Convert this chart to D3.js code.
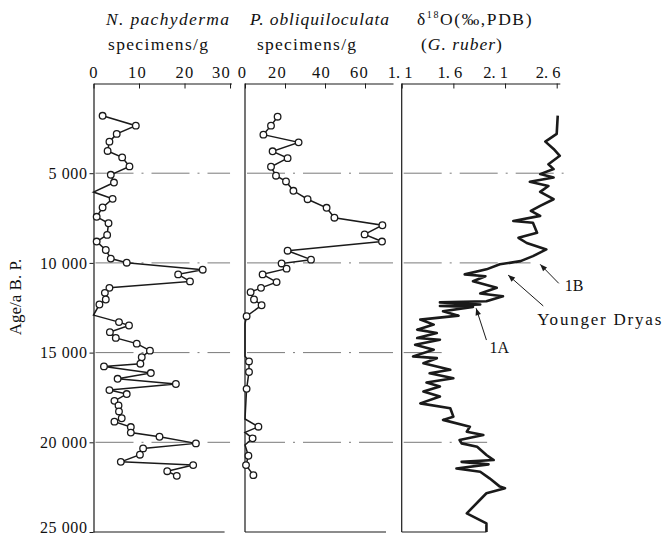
<!DOCTYPE html>
<html><head><meta charset="utf-8">
<script src="https://cdn.jsdelivr.net/npm/d3@7/dist/d3.min.js"></script>
<style>
body{margin:0;background:#fff}
svg{display:block}
text{font-family:"Liberation Serif","Times New Roman",serif;fill:#111}
</style></head>
<body><svg id="chart" width="662" height="539"></svg>
<script>
// ---------- data ----------
const ageTicks = [5000, 10000, 15000, 20000, 25000];
const gridAges = [5000, 10000, 15000, 20000];
const pachyTicks = [0, 10, 20, 30];
const obliqTicks = [0, 20, 40, 60];
const d18oTicks = [1.1, 1.6, 2.1, 2.6];

const pachyAge = [1800,2350,2810,3240,3760,4120,4620,5090,5520,6050,6430,6910,7430,7790,8440,8810,9280,9760,9990,10380,10640,11030,11390,11670,12040,12320,12910,13300,13490,13860,14180,14500,14890,15260,15620,15770,16140,16460,16750,17090,17310,17690,17950,18280,18660,18850,19150,19460,19690,20060,20340,20690,21090,21270,21610,21870];
const pachyVal = [2.0,9.3,5.1,3.5,3.1,6.3,7.9,3.8,4.5,0,4.2,2.0,0.7,3.3,3.0,0.7,2.7,3.8,7.3,24.0,18.6,21.2,3.5,2.5,2.7,1.3,0,5.6,7.8,3.6,4.9,9.5,12.4,10.6,10.3,2.3,12.6,5.3,18.1,3.5,7.3,4.6,5.5,5.6,6.2,4.6,8.2,8.2,14.5,22.5,10.9,10.2,6.0,21.9,16.2,18.3];

const obliqAge = [1850,2350,2850,3280,3780,4160,4640,5140,5460,5980,6450,6930,7480,7900,8410,8810,9320,9820,10030,10320,10640,11070,11390,11630,12040,12360,12970,13400,15200,15490,16080,17020,18700,19130,19450,19780,20150,20750,21270,21830];
const obliqVal = [16.3,13,9.2,26.8,13.8,21.3,13,15.5,20.5,24.2,31.3,40.8,44.7,68.7,59.8,68.5,21.3,33,18.3,20.8,8.8,15.8,8,2.8,4.5,8.3,0.8,0,0,2,2,0.8,0,6.7,0,3.8,0,1.7,0.5,4.2];

const d18oAge = [1790,2810,3240,3650,4030,4500,4770,5050,5240,5480,5710,6040,6450,6820,7100,7380,7660,7760,8320,8600,8890,9250,9620,9900,10080,10360,10640,10740,11020,11390,11710,11860,12140,12200,12320,12400,12450,12700,12940,13160,13440,13720,13910,14190,14280,14560,14840,15210,15310,15590,15960,16150,16430,16670,16890,17170,17450,17830,18100,18570,18750,19130,19410,19590,19870,20060,20250,20710,20990,21090,21230,21460,21640,22010,22470,22560,22840,23960,24520,25000];
const d18oVal = [2.61,2.60,2.49,2.57,2.63,2.52,2.57,2.44,2.57,2.34,2.52,2.44,2.57,2.44,2.35,2.44,2.18,2.37,2.41,2.23,2.31,2.50,2.37,2.25,2.05,1.92,1.71,1.91,1.79,2.02,1.86,2.08,1.92,1.47,1.86,1.47,1.79,1.50,1.65,1.28,1.41,1.25,1.44,1.25,1.47,1.23,1.41,1.21,1.44,1.31,1.57,1.37,1.60,1.34,1.47,1.31,1.47,1.28,1.57,1.60,1.50,1.76,1.73,1.89,1.66,1.68,1.83,1.92,1.99,1.68,1.94,1.63,1.86,1.95,2.05,2.10,1.92,1.73,1.92,1.92];

// annotations: tip/tail in data units (δ18O value, age)
const annoLabels = ["1B", "Younger Dryas", "1A"];
const annoTip = [[2.44, 10080], [2.13, 10680], [1.82, 12530]];
const annoTail = [[2.62, 11140], [2.47, 12400], [1.92, 14300]];

// ---------- drawing ----------
const FONT = '"Liberation Serif","Times New Roman",serif';
const svg = d3.select("#chart");
const y = d3.scaleLinear().domain([0, 25000]).range([83.5, 532]);
const x1 = d3.scaleLinear().domain([0, 30.3]).range([93.5, 231.4]);
const x2 = d3.scaleLinear().domain([0, 74]).range([245, 393]);
const x3 = d3.scaleLinear().domain([1.1, 2.63]).range([401.7, 559.8]);

const ink = "#1a1a1a";

svg.append("defs").append("marker")
  .attr("id", "arr").attr("viewBox", "0 0 10 10").attr("refX", 10).attr("refY", 5)
  .attr("markerWidth", 9).attr("markerHeight", 7).attr("markerUnits", "userSpaceOnUse")
  .attr("orient", "auto")
  .append("path").attr("d", "M0,1 L10,5 L0,9 Z").attr("fill", ink);

const pachy = pachyAge.map((a, i) => ({age: a, v: pachyVal[i]}));
const obliq = obliqAge.map((a, i) => ({age: a, v: obliqVal[i]}));
const d18o = d18oAge.map((a, i) => ({age: a, v: d18oVal[i]}));

// gridlines
const grid = svg.append("g").attr("stroke", "#7a7a7a").attr("stroke-width", 1)
  .attr("stroke-dasharray", "38,8,2,8").attr("fill", "none");
gridAges.forEach(a => {
  grid.append("line").attr("x1", x1(0) + 2).attr("x2", x1(30)).attr("y1", y(a)).attr("y2", y(a));
  grid.append("line").attr("x1", x2(0) + 2).attr("x2", x2(74)).attr("y1", y(a)).attr("y2", y(a));
  const reach = d3.max(d18o.filter(d => Math.abs(d.age - a) <= 350), d => d.v);
  grid.append("line").attr("x1", x3(1.1) + 2).attr("x2", x3(reach) + 10).attr("y1", y(a)).attr("y2", y(a));
});

// left age axis
const yAxis = svg.append("g").attr("transform", `translate(${x1(0)},0)`)
  .call(d3.axisLeft(y).tickValues(ageTicks).tickSize(4).tickSizeOuter(0).tickPadding(2)
    .tickFormat(d => d3.format(",")(d).replace(",", " ")));
yAxis.attr("font-family", FONT).attr("font-size", 16);
yAxis.select(".domain").attr("stroke", ink).attr("stroke-width", 1.2);
yAxis.selectAll("line").attr("stroke", ink);
yAxis.selectAll("text").attr("font-family", FONT).attr("font-size", 16).attr("letter-spacing", 0.6)
  .attr("fill", "#111").attr("dy", d => d === 25000 ? "0.05em" : "0.32em");

svg.append("text").attr("transform", `translate(21,297) rotate(-90)`)
  .attr("text-anchor", "middle").attr("font-size", 17).text("Age/a B. P.");

// top axes
function topAxis(scale, ticks, fmt, shifts, spacing) {
  const g = svg.append("g").attr("transform", `translate(0,${y(0)})`)
    .call(d3.axisTop(scale).tickValues(ticks).tickSizeInner(-5).tickSizeOuter(0).tickPadding(6).tickFormat(fmt));
  g.attr("font-family", FONT).attr("font-size", 16.5);
  g.select(".domain").attr("stroke", ink).attr("stroke-width", 1.2);
  g.selectAll("line").attr("stroke", ink);
  g.selectAll("text").attr("font-family", FONT).attr("font-size", 16.5).attr("letter-spacing", spacing)
    .attr("fill", "#111").attr("dx", (d, i) => shifts[i]);
  return g;
}
topAxis(x1, pachyTicks, d3.format("d"), [0, -2, 0, -9], 1.2);
topAxis(x2, obliqTicks, d3.format("d"), [-3, -8, -4, -6], 1.2);
topAxis(x3, d18oTicks, d => d3.format(".1f")(d).replace(".", ". "), [-2, -4, -10, -9], 0);

// panel frames: left verticals (panels 2,3) and bottom lines
const frame = svg.append("g").attr("stroke", ink).attr("stroke-width", 1.2);
[x2(0), x3(1.1)].forEach(xx => frame.append("line").attr("x1", xx).attr("x2", xx).attr("y1", y(0)).attr("y2", y(25000)));
frame.append("line").attr("x1", x1(0)).attr("x2", x1(28.8)).attr("y1", y(25000)).attr("y2", y(25000));
frame.append("line").attr("x1", x2(0)).attr("x2", x2(70.5)).attr("y1", y(25000)).attr("y2", y(25000));
frame.append("line").attr("x1", x3(1.1)).attr("x2", x3(d18oVal[d18oVal.length - 1])).attr("y1", y(25000)).attr("y2", y(25000));

// series lines
const line = xs => d3.line().x(d => xs(d.v)).y(d => y(d.age));
svg.append("path").datum(pachy).attr("d", line(x1)).attr("fill", "none").attr("stroke", ink).attr("stroke-width", 1.5);
svg.append("path").datum(obliq).attr("d", line(x2)).attr("fill", "none").attr("stroke", ink).attr("stroke-width", 1.5);
svg.append("path").datum(d18o).attr("d", line(x3)).attr("fill", "none").attr("stroke", ink).attr("stroke-width", 2.6).attr("stroke-linejoin", "round");

// circles (points with zero count are plain vertices)
svg.append("g").selectAll("circle").data(pachy.filter(d => d.v > 0)).join("circle")
  .attr("cx", d => x1(d.v)).attr("cy", d => y(d.age)).attr("r", 3.3)
  .attr("fill", "#fff").attr("stroke", ink).attr("stroke-width", 1.3);
svg.append("g").selectAll("circle").data(obliq.filter(d => d.v > 0)).join("circle")
  .attr("cx", d => x2(d.v)).attr("cy", d => y(d.age)).attr("r", 3.3)
  .attr("fill", "#fff").attr("stroke", ink).attr("stroke-width", 1.3);

// headers
const hdr = svg.append("g").attr("font-size", 17.5);
hdr.append("text").attr("x", 106).attr("y", 25).attr("font-style", "italic")
  .attr("textLength", 123).attr("lengthAdjust", "spacing").text("N. pachyderma");
hdr.append("text").attr("x", 108).attr("y", 50)
  .attr("textLength", 100).attr("lengthAdjust", "spacing").text("specimens/g");
hdr.append("text").attr("x", 250).attr("y", 25).attr("font-style", "italic")
  .attr("textLength", 139).attr("lengthAdjust", "spacing").text("P. obliquiloculata");
hdr.append("text").attr("x", 257).attr("y", 50)
  .attr("textLength", 99).attr("lengthAdjust", "spacing").text("specimens/g");
const t3 = hdr.append("text").attr("x", 417).attr("y", 25).attr("letter-spacing", 1.6);
t3.append("tspan").text("δ");
t3.append("tspan").attr("font-size", 10).attr("dy", -7).text("18");
t3.append("tspan").attr("dy", 7).text("O(‰,PDB)");
const t4 = hdr.append("text").attr("x", 421).attr("y", 50).attr("letter-spacing", 1);
t4.append("tspan").text("(");
t4.append("tspan").attr("font-style", "italic").text("G. ruber");
t4.append("tspan").text(")");

// annotations
const ann = svg.append("g");
const textOff = [[6, 8], [-6, 19], [3, 13]];
annoLabels.forEach((lab, i) => {
  ann.append("line")
    .attr("x1", x3(annoTail[i][0])).attr("y1", y(annoTail[i][1]))
    .attr("x2", x3(annoTip[i][0])).attr("y2", y(annoTip[i][1]))
    .attr("stroke", ink).attr("stroke-width", 1).attr("marker-end", "url(#arr)");
  const t = ann.append("text")
    .attr("x", x3(annoTail[i][0]) + textOff[i][0]).attr("y", y(annoTail[i][1]) + textOff[i][1])
    .attr("font-size", i === 1 ? 17 : 16).text(lab);
  if (i === 1) t.attr("textLength", 124).attr("lengthAdjust", "spacing");
});
</script></body></html>
